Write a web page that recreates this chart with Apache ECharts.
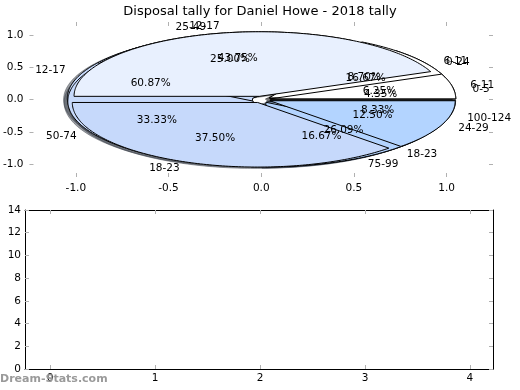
<!DOCTYPE html>
<html>
<head>
<meta charset="utf-8">
<script src="https://cdn.jsdelivr.net/npm/echarts@6/dist/echarts.min.js"></script>
<style>html,body{margin:0;padding:0;background:#fff}#c{width:520px;height:390px}</style>
</head>
<body>
<div id="c"></div>
<script>
// ---- data ----
const chartTitle = 'Disposal tally for Daniel Howe - 2018 tally';
// pies are drawn in this order, the last one on top
const pie1Labels = ['0-5', '6-11', '12-17', '18-23'];
const pie1Values = [1, 2, 14, 6];
const pie2Labels = ['0-24', '25-49', '50-74', '75-99', '100-124'];
const pie2Values = [4, 6, 8, 4, 2];
const pie3Labels = ['6-11', '12-17', '18-23', '24-29'];
const pie3Values = [1, 7, 6, 2];
const pieTicks = [-1, -0.5, 0, 0.5, 1];
const barCategories = [0, 1, 2, 3, 4];
const barValues = [0, 0, 0, 0, 0];
const barYTicks = [0, 2, 4, 6, 8, 10, 12, 14];
const watermark = 'Dream-Stats.com';

// ---- style ----
const FONT = 'DejaVu Sans';
const wedgeColors = ['#ffffff', '#e8f0fe', '#c6d9fb', '#b3d4ff', '#a3c8ff'];
const R = 1, EXPLODE = 0.05, LABEL_D = 1.1, PCT_D = 0.6;
const TICK_COLOR = '#b0b0b0';

const pies = [[pie1Labels, pie1Values], [pie2Labels, pie2Values], [pie3Labels, pie3Values]];
const wedges = [];
pies.forEach(([labels, values], p) => {
  const total = values.reduce((a, b) => a + b, 0);
  let acc = 0;
  values.forEach((v, i) => {
    const t1 = acc / total * 360; acc += v; const t2 = acc / total * 360;
    wedges.push({ p, i, t1, t2, label: labels[i], pct: (v / total * 100).toFixed(2) + '%', color: wedgeColors[i % wedgeColors.length] });
  });
});

function shade(hex, f) {
  const n = parseInt(hex.slice(1), 16);
  const r = ((n >> 16) & 255) * f, g = ((n >> 8) & 255) * f, b = (n & 255) * f;
  return 'rgba(' + Math.round(r) + ',' + Math.round(g) + ',' + Math.round(b) + ',0.5)';
}

function wedgePoints(w, api, dx, dy) {
  const tm = (w.t1 + w.t2) / 2 * Math.PI / 180;
  const ex = EXPLODE * Math.cos(tm) + dx, ey = EXPLODE * Math.sin(tm) + dy;
  const pts = [api.coord([ex, ey])];
  const n = Math.max(2, Math.ceil(w.t2 - w.t1));
  for (let k = 0; k <= n; k++) {
    const a = (w.t1 + (w.t2 - w.t1) * k / n) * Math.PI / 180;
    pts.push(api.coord([ex + R * Math.cos(a), ey + R * Math.sin(a)]));
  }
  return pts;
}

const wedgeData = wedges.map((w, idx) => ({ value: [0, 0, idx] }));

const chart = echarts.init(document.getElementById('c'), null, { renderer: 'canvas' });

function tickAxis(extra) {
  return Object.assign({
    type: 'value', splitLine: { show: false },
    axisLine: { show: false, onZero: false },
    axisTick: { show: true, inside: true, length: 4, lineStyle: { color: TICK_COLOR, width: 1 } },
    axisLabel: { show: false }
  }, extra);
}

const option = {
  animation: false,
  backgroundColor: '#fff',
  title: {
    text: chartTitle, left: 'center', top: 0,
    textStyle: { fontFamily: FONT, fontSize: 13, fontWeight: 'normal', color: '#000' }
  },
  grid: [
    { left: 27, top: 22, width: 466, height: 155 },
    { left: 25, top: 210, width: 468, height: 159 }
  ],
  xAxis: [
    tickAxis({ gridIndex: 0, position: 'bottom', min: -1.25, max: 1.25,
      axisTick: { show: true, inside: true, length: 4, customValues: pieTicks, lineStyle: { color: TICK_COLOR } },
      axisLabel: { show: true, customValues: pieTicks, formatter: v => v.toFixed(1), fontFamily: FONT, fontSize: 10.5, color: '#000', margin: 6 } }),
    tickAxis({ gridIndex: 0, position: 'top', min: -1.25, max: 1.25,
      axisTick: { show: true, inside: true, length: 4, customValues: pieTicks, lineStyle: { color: TICK_COLOR } } }),
    tickAxis({ gridIndex: 1, position: 'bottom', min: -0.24, max: 4.22,
      axisLine: { show: true, onZero: false, lineStyle: { color: '#000', width: 1 } },
      axisTick: { show: true, inside: true, length: 4, customValues: barCategories, lineStyle: { color: TICK_COLOR } },
      axisLabel: { show: true, customValues: barCategories, formatter: v => String(v), fontFamily: FONT, fontSize: 10.5, color: '#000', margin: 4 } }),
    tickAxis({ gridIndex: 1, position: 'top', min: -0.24, max: 4.22,
      axisLine: { show: true, onZero: false, lineStyle: { color: '#000', width: 1 } },
      axisTick: { show: true, inside: true, length: 4, customValues: barCategories, lineStyle: { color: TICK_COLOR } } })
  ],
  yAxis: [
    tickAxis({ gridIndex: 0, position: 'left', min: -1.2, max: 1.2,
      axisTick: { show: true, inside: true, length: 4, customValues: pieTicks, lineStyle: { color: TICK_COLOR } },
      axisLabel: { show: true, customValues: pieTicks, formatter: v => v.toFixed(1), fontFamily: FONT, fontSize: 10.5, color: '#000', margin: 6 } }),
    tickAxis({ gridIndex: 0, position: 'right', min: -1.2, max: 1.2,
      axisTick: { show: true, inside: true, length: 4, customValues: pieTicks, lineStyle: { color: TICK_COLOR } } }),
    tickAxis({ gridIndex: 1, position: 'left', min: 0, max: 14, interval: 2,
      axisLine: { show: true, onZero: false, lineStyle: { color: '#000', width: 1 } },
      axisTick: { show: true, inside: true, length: 4, customValues: barYTicks, lineStyle: { color: TICK_COLOR } },
      axisLabel: { show: true, customValues: barYTicks, fontFamily: FONT, fontSize: 10.5, color: '#000', margin: 4 } }),
    tickAxis({ gridIndex: 1, position: 'right', min: 0, max: 14, interval: 2,
      axisLine: { show: true, onZero: false, lineStyle: { color: '#000', width: 1 } },
      axisTick: { show: true, inside: true, length: 4, customValues: barYTicks, lineStyle: { color: TICK_COLOR } } })
  ],
  graphic: [
    { type: 'text', left: 0, top: 374, z: 100,
      style: { text: watermark, fill: '#9a9a9a', font: 'bold 11px "DejaVu Sans"' } }
  ],
  series: [
    { // shadows under all wedges
      type: 'custom', name: 'shadows', coordinateSystem: 'cartesian2d', xAxisIndex: 0, yAxisIndex: 0,
      clip: false, silent: true, z: 1, data: wedgeData,
      renderItem: function (params, api) {
        const w = wedges[api.value(2)];
        const c = shade(w.color, 0.3);
        return { type: 'polygon', z2: api.value(2), shape: { points: wedgePoints(w, api, -0.02, -0.02) },
          style: { fill: c, stroke: c, lineWidth: 1 } };
      }
    },
    { // wedges
      type: 'custom', name: 'wedges', coordinateSystem: 'cartesian2d', xAxisIndex: 0, yAxisIndex: 0,
      clip: false, silent: true, z: 2, data: wedgeData,
      renderItem: function (params, api) {
        const w = wedges[api.value(2)];
        return { type: 'polygon', z2: api.value(2), shape: { points: wedgePoints(w, api, 0, 0) },
          style: { fill: w.color, stroke: '#000', lineWidth: 1, lineJoin: 'round' } };
      }
    },
    { // labels
      type: 'custom', name: 'labels', coordinateSystem: 'cartesian2d', xAxisIndex: 0, yAxisIndex: 0,
      clip: false, silent: true, z: 3, data: wedgeData,
      renderItem: function (params, api) {
        const w = wedges[api.value(2)];
        const tm = (w.t1 + w.t2) / 2 * Math.PI / 180;
        const ex = EXPLODE * Math.cos(tm), ey = EXPLODE * Math.sin(tm);
        const lx = ex + LABEL_D * R * Math.cos(tm), ly = ey + LABEL_D * R * Math.sin(tm);
        const px = ex + PCT_D * R * Math.cos(tm), py = ey + PCT_D * R * Math.sin(tm);
        const lp = api.coord([lx, ly]), pp = api.coord([px, py]);
        return { type: 'group', children: [
          { type: 'text', x: lp[0], y: lp[1], style: { text: w.label, fill: '#000', fontFamily: FONT, fontSize: 10.5,
            align: lx > 0 ? 'left' : 'right', verticalAlign: 'middle' } },
          { type: 'text', x: pp[0], y: pp[1], style: { text: w.pct, fill: '#000', fontFamily: FONT, fontSize: 10.5,
            align: 'center', verticalAlign: 'middle' } }
        ] };
      }
    },
    {
      type: 'bar', name: 'tally', xAxisIndex: 2, yAxisIndex: 2, barWidth: 40,
      itemStyle: { color: '#b3d4ff', borderColor: '#000', borderWidth: 0 },
      data: barCategories.map((c, i) => [c, barValues[i]])
    }
  ]
};
chart.setOption(option);
</script>
</body>
</html>
